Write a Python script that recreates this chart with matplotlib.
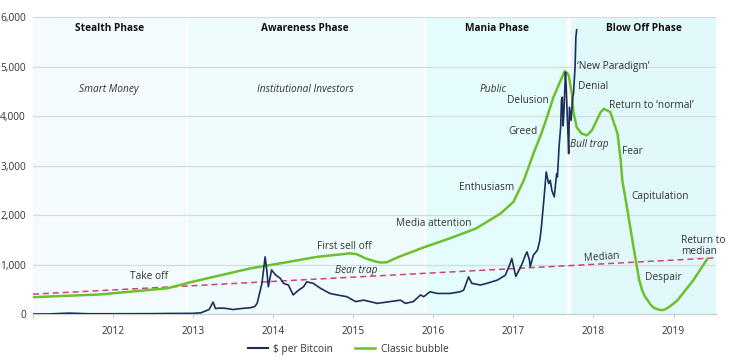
import matplotlib
matplotlib.use("Agg")
import matplotlib.pyplot as plt
from matplotlib.lines import Line2D

plt.rcParams['font.family'] = ['Open Sans', 'DejaVu Sans']

# ---------------- data ----------------
btc_years = [2011.00, 2011.20, 2011.45, 2011.70, 2012.00, 2012.50, 2012.70, 2013.00,
             2013.10, 2013.20, 2013.25, 2013.28, 2013.33, 2013.40, 2013.50, 2013.60,
             2013.71, 2013.77, 2013.80, 2013.86, 2013.90, 2013.92, 2013.94, 2013.98,
             2014.03, 2014.09, 2014.13, 2014.19, 2014.25, 2014.32, 2014.38, 2014.42,
             2014.50, 2014.59, 2014.71, 2014.80, 2014.92, 2015.03, 2015.13, 2015.30,
             2015.46, 2015.59, 2015.65, 2015.75, 2015.84, 2015.88, 2015.96, 2016.05,
             2016.21, 2016.34, 2016.38, 2016.44, 2016.48, 2016.59, 2016.67, 2016.80,
             2016.90, 2016.96, 2016.98, 2017.01, 2017.03, 2017.07, 2017.11, 2017.15,
             2017.17, 2017.20, 2017.21, 2017.25, 2017.30, 2017.33, 2017.35, 2017.38,
             2017.41, 2017.44, 2017.46, 2017.48, 2017.51, 2017.54, 2017.55, 2017.57,
             2017.59, 2017.60, 2017.61, 2017.62, 2017.63, 2017.65, 2017.66, 2017.67,
             2017.68, 2017.69, 2017.70, 2017.72, 2017.74, 2017.75, 2017.77, 2017.78,
             2017.79]
btc_price = [0.3, 1, 18, 5, 5, 7, 11, 13,
             25, 90, 240, 110, 120, 115, 90, 110,
             125, 150, 215, 620, 1155, 890, 550, 890,
             790, 720, 620, 585, 385, 485, 550, 650,
             620, 520, 415, 385, 350, 250, 280, 215,
             250, 280, 215, 250, 385, 350, 450, 415,
             415, 450, 485, 750, 620, 585, 620, 685,
             785, 1020, 1120, 900, 760, 885, 1020, 1190,
             1255, 1090, 955, 1190, 1290, 1490, 1760, 2300,
             2870, 2635, 2700, 2500, 2365, 2835, 2770, 3375,
             3775, 4315, 4380, 3800, 4045, 4885, 4580, 4110,
             3700, 3240, 4180, 3910, 4380, 4445, 4985, 5590,
             5740]

bubble_years = [2011.00, 2011.84, 2012.68, 2012.99, 2013.71, 2014.13, 2014.55, 2014.96,
                2015.04, 2015.16, 2015.29, 2015.34, 2015.42, 2015.57, 2015.90, 2016.20,
                2016.53, 2016.84, 2017.00, 2017.13, 2017.25, 2017.35, 2017.42, 2017.50,
                2017.59, 2017.64, 2017.67, 2017.69, 2017.73, 2017.75, 2017.79, 2017.85,
                2017.92, 2017.98, 2018.04, 2018.09, 2018.13, 2018.21, 2018.30, 2018.34,
                2018.36, 2018.43, 2018.50, 2018.57, 2018.61, 2018.64, 2018.68, 2018.71,
                2018.75, 2018.80, 2018.84, 2018.88, 2018.92, 2018.98, 2019.05, 2019.25,
                2019.42]
bubble_vals = [340, 395, 520, 650, 920, 1035, 1155, 1225,
               1210, 1120, 1055, 1040, 1045, 1155, 1357, 1525,
               1725, 2030, 2265, 2700, 3240, 3650, 3980, 4380,
               4720, 4905, 4870, 4820, 4450, 4080, 3775, 3645,
               3610, 3710, 3910, 4080, 4145, 4080, 3645, 3105,
               2700, 2040, 1350, 690, 470, 360, 270, 195,
               130, 95, 80, 85, 115, 185, 280, 690,
               1110]

median_years = [2011.00, 2019.53]
median_vals = [400, 1135]

phase_names = ["Stealth Phase", "Awareness Phase", "Mania Phase", "Blow Off Phase"]
phase_spans = [(2011.00, 2012.91), (2012.94, 2015.88), (2015.91, 2017.67), (2017.725, 2019.53)]
phase_colors = ["#f4fbfe", "#effcfe", "#e5fcfd", "#e2f9fb"]

year_ticks = [2011, 2012, 2013, 2014, 2015, 2016, 2017, 2018, 2019]
year_labels = ["", "2012", "2013", "2014", "2015", "2016", "2017", "2018", "2019"]
y_ticks = [0, 1000, 2000, 3000, 4000, 5000, 6000]
y_labels = ["0", "1,000", "2,000", "3,000", "4,000", "5,000", "6,000"]

NAVY = "#1d2d5c"
GREEN = "#6cc02c"
RED = "#d2407a"
TXT = "#333333"

fig = plt.figure(figsize=(7.31, 3.62), dpi=100)
ax = fig.add_axes([0.045, 0.1326, 0.9345, 0.8204])
ax.set_xlim(2011.0, 2019.53)
ax.set_ylim(0, 6000)

for (a, b), c in zip(phase_spans, phase_colors):
    ax.axvspan(a, b, ymin=0, ymax=1, color=c, lw=0, zorder=0)

for yv in y_ticks[1:]:
    ax.axhline(yv, color="#d5dadd", lw=0.9, zorder=1)

ax.plot(median_years, median_vals, color=RED, lw=1.1, ls=(0, (4, 2.5)), zorder=2)
ax.plot(bubble_years, bubble_vals, color=GREEN, lw=1.8, zorder=3,
        solid_joinstyle='round', solid_capstyle='round')
ax.plot(btc_years, btc_price, color=NAVY, lw=1.2, zorder=4, solid_joinstyle='round')

ax.set_xticks(year_ticks)
ax.set_xticklabels(year_labels)
ax.set_yticks(y_ticks)
ax.set_yticklabels(y_labels)
ax.tick_params(axis='x', length=3, color="#c8cdd0", labelsize=7.3, labelcolor=TXT, pad=6)
ax.tick_params(axis='y', length=0, labelsize=7.3, labelcolor=TXT, pad=5)
for s in ['top', 'right', 'left']:
    ax.spines[s].set_visible(False)
ax.spines['bottom'].set_color("#c8cdd0")
ax.spines['bottom'].set_linewidth(0.9)

fs = 7.3
phase_x = [2011.96, 2014.40, 2016.80, 2018.625]
for name, xx in zip(phase_names, phase_x):
    ax.text(xx, 5766, name, ha='center', va='center', fontsize=fs, fontweight='bold', color="#111111")

def lab(x, y, s, ha='center', style='normal', rot=0):
    ax.text(x, y, s, ha=ha, va='center', fontsize=fs, color=TXT, style=style,
            rotation=rot, rotation_mode='anchor', zorder=6)

lab(2011.95, 4536, "Smart Money", style='italic')
lab(2014.40, 4536, "Institutional Investors", style='italic')
lab(2016.75, 4536, "Public", style='italic')
lab(2017.80, 5000, "\u2018New Paradigm\u2019", ha='left')
lab(2017.81, 4597, "Denial", ha='left')
lab(2017.175, 4315, "Delusion")
lab(2018.19, 4214, "Return to \u2018normal\u2019", ha='left')
lab(2017.125, 3690, "Greed")
lab(2017.71, 3427, "Bull trap", ha='left', style='italic')
lab(2018.36, 3286, "Fear", ha='left')
lab(2016.66, 2560, "Enthusiasm")
lab(2018.475, 2379, "Capitulation", ha='left')
lab(2016.0, 1835, "Media attention")
lab(2014.89, 1371, "First sell off")
lab(2012.45, 766, "Take off")
lab(2015.04, 873, "Bear trap", style='italic')
lab(2018.10, 1149, "Median", rot=4)
ax.text(2019.096, 1371, "Return to\nmedian", ha='left', va='center', fontsize=fs,
        color=TXT, linespacing=1.05, zorder=6)
lab(2018.875, 740, "Despair")

handles = [Line2D([0], [0], color=NAVY, lw=1.5), Line2D([0], [0], color=GREEN, lw=1.8)]
fig.legend(handles, ["$ per Bitcoin", "Classic bubble"], loc='center',
           bbox_to_anchor=(0.476, 0.035), ncol=2, frameon=False, fontsize=fs,
           handlelength=2.0, handletextpad=0.5, columnspacing=2.2, labelcolor=TXT)

fig.savefig("out.png", dpi=100)
